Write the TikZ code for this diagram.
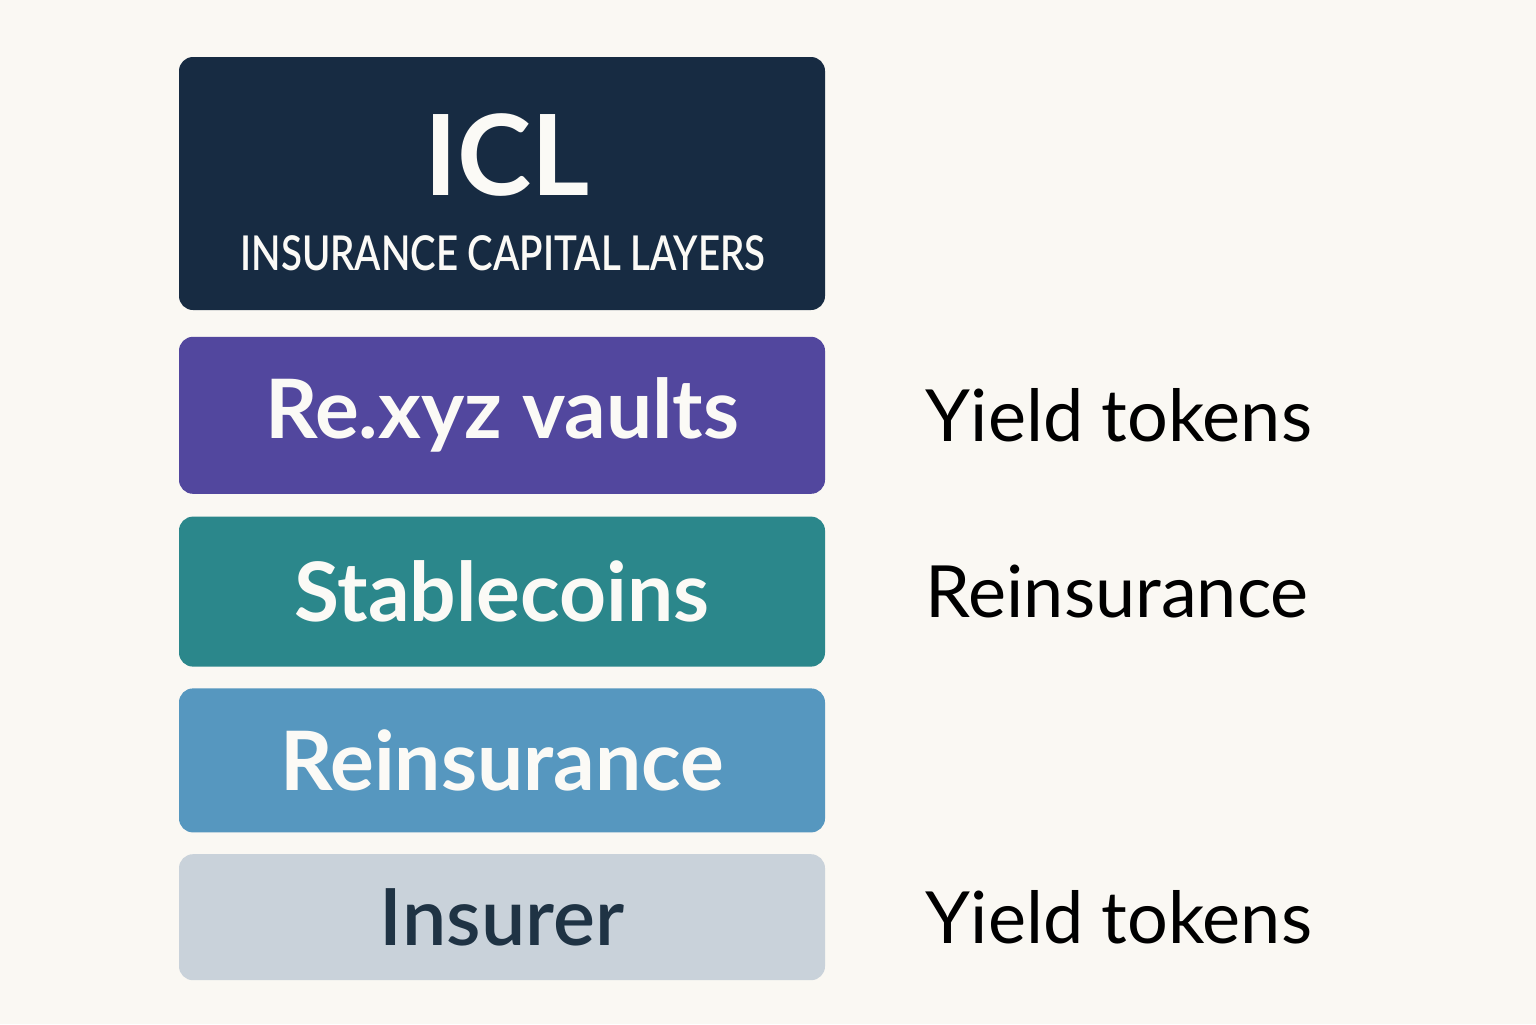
\documentclass[tikz,border=0pt]{standalone}
\usepackage{fontspec}
\setmainfont{Lato}[BoldFont={Lato Bold}]
\newfontfamily\semifont{Lato Semibold}
\newfontfamily\condfont[FakeStretch=0.80]{Lato Semibold}
\usepackage{xcolor}
\usetikzlibrary{positioning}
\definecolor{pagebg}{HTML}{FAF8F3}
\definecolor{labelwhite}{HTML}{FBFAF6}
\definecolor{iclnavy}{HTML}{172B42}
\definecolor{vaultpurple}{HTML}{52479E}
\definecolor{stableteal}{HTML}{2B878B}
\definecolor{reinsblue}{HTML}{5697BF}
\definecolor{insurergray}{HTML}{C9D2DA}
\definecolor{insurertext}{HTML}{1F3344}
\tikzset{layer/.style={rounded corners=7pt, minimum width=323pt, text centered, text=labelwhite, font=\fontsize{41}{45}\selectfont\bfseries},
  sidelabel/.style={inner sep=0pt, font=\fontsize{36}{40}\selectfont}}

\begin{document}
\begin{tikzpicture}[x=0.5pt, y=-0.5pt, node distance=11pt and 50pt]
    \fill[pagebg] (0,0) rectangle (1536,1024);
    \node[layer, fill=iclnavy, minimum height=126.5pt] (icl) at (502,183.5) {};
    \node[anchor=base, text=labelwhite, font=\fontsize{56}{60}\selectfont\bfseries] (icltitle) at (507,195) {ICL};
    \node[anchor=base, text=labelwhite, font=\condfont\fontsize{24}{28}\selectfont] (iclsub) at (503,270) {INSURANCE CAPITAL LAYERS};
    \node[layer, fill=vaultpurple, minimum height=78.5pt, below=13pt of icl] (vaults) {Re.xyz vaults};
    \node[layer, fill=stableteal, minimum height=75pt, below=of vaults] (stable) {Stablecoins};
    \node[layer, fill=reinsblue, minimum height=72pt, below=10.5pt of stable] (reins) {Reinsurance};
    \node[layer, fill=insurergray, minimum height=63pt, below=10.5pt of reins, text=insurertext, font=\semifont\fontsize{39.5}{44}\selectfont] (insurer) {Insurer};

    \node[sidelabel, right=of vaults] (yield1) {Yield tokens};
    \node[sidelabel, right=of stable] (reinslabel) {Reinsurance};
    \node[sidelabel, right=of insurer] (yield2) {Yield tokens};
\end{tikzpicture}
\end{document}
